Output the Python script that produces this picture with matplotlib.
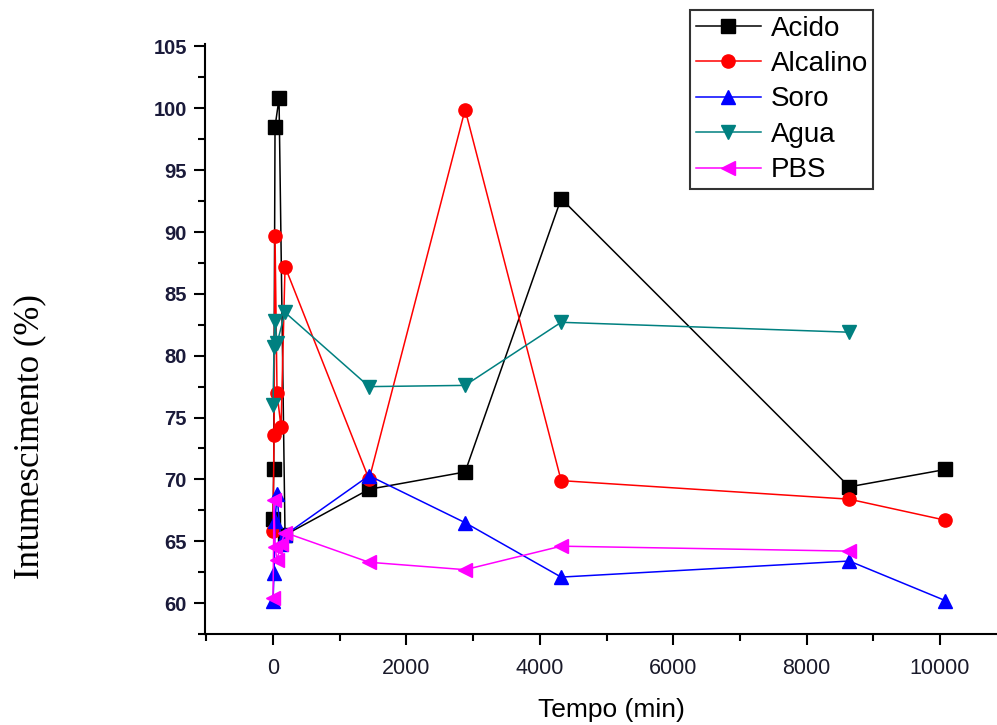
import matplotlib
matplotlib.use("Agg")
import matplotlib.pyplot as plt
from matplotlib.ticker import MultipleLocator

# Data (time in min, swelling %)
t_acido = [0, 10, 30, 90, 180, 1440, 2880, 4320, 8640, 10080]
v_acido = [66.8, 70.8, 98.5, 100.8, 65.5, 69.2, 70.6, 92.7, 69.4, 70.8]

t_alcalino = [0, 15, 30, 60, 120, 180, 1440, 2880, 4320, 8640, 10080]
v_alcalino = [65.8, 73.6, 89.7, 77.0, 74.2, 87.2, 70.0, 99.9, 69.9, 68.4, 66.7]

t_soro = [0, 15, 30, 60, 120, 180, 1440, 2880, 4320, 8640, 10080]
v_soro = [60.2, 62.4, 66.6, 68.8, 64.8, 65.5, 70.3, 66.5, 62.1, 63.4, 60.2]

t_agua = [0, 15, 30, 60, 180, 1440, 2880, 4320, 8640]
v_agua = [76.0, 80.7, 82.8, 81.0, 83.5, 77.5, 77.6, 82.7, 81.9]

t_pbs = [0, 15, 30, 60, 120, 180, 1440, 2880, 4320, 8640]
v_pbs = [60.4, 68.3, 64.5, 63.5, 64.8, 65.7, 63.3, 62.7, 64.6, 64.2]

series = [
    ("Acido", t_acido, v_acido, "black", "s"),
    ("Alcalino", t_alcalino, v_alcalino, "#ff0000", "o"),
    ("Soro", t_soro, v_soro, "#0000ff", "^"),
    ("Agua", t_agua, v_agua, "#008080", "v"),
    ("PBS", t_pbs, v_pbs, "#ff00ff", "<"),
]

fig = plt.figure(figsize=(9.97, 7.25), dpi=100)
ax = fig.add_axes([205/997, (725-634)/725, 792/997, (634-44)/725])

for name, t, v, c, m in series:
    ax.plot(t, v, color=c, marker=m, markersize=9.5, linewidth=1.1, label=name,
            markeredgecolor=c, markerfacecolor=c)

ax.set_xlim(-1020, 10855)
ax.set_ylim(57.5, 105.2)
ax.xaxis.set_major_locator(MultipleLocator(2000))
ax.xaxis.set_minor_locator(MultipleLocator(1000))
ax.yaxis.set_major_locator(MultipleLocator(5))
ax.yaxis.set_minor_locator(MultipleLocator(2.5))

for s in ["top", "right"]:
    ax.spines[s].set_visible(False)
for s in ["left", "bottom"]:
    ax.spines[s].set_linewidth(1.5)

ax.tick_params(which="major", direction="out", length=8, width=1.5)
ax.tick_params(which="minor", direction="out", length=5, width=1.5)

for lab in ax.get_yticklabels():
    lab.set_fontfamily(["Liberation Sans", "DejaVu Sans"])
    lab.set_fontweight("bold")
    lab.set_fontsize(14.5)
    lab.set_color("#1a1a3a")
for lab in ax.get_xticklabels():
    lab.set_fontfamily(["Liberation Sans", "DejaVu Sans"])
    lab.set_fontsize(15.5)
    lab.set_color("#1a1a2a")
ax.tick_params(axis="x", pad=9)
ax.tick_params(axis="y", pad=5)

ax.set_ylabel("Intumescimento (%)", fontsize=25,
              family=["Liberation Serif", "DejaVu Serif"], labelpad=0)
ax.yaxis.set_label_coords(-0.2, 0.334)
ax.set_xlabel("Tempo (min)", fontsize=19,
              family=["Liberation Sans", "DejaVu Sans"])
ax.xaxis.set_label_coords(0.513, -0.108)

leg = ax.legend(loc="upper left", bbox_to_anchor=(690/997, 1 - 10/725),
                bbox_transform=fig.transFigure,
                prop={"family": ["Liberation Sans", "DejaVu Sans"], "size": 20},
                frameon=True, fancybox=False, edgecolor="black",
                handlelength=2.35, handletextpad=0.35, labelspacing=0.34,
                borderpad=0.2, borderaxespad=0, markerscale=1.0)
leg.get_frame().set_linewidth(1.5)

fig.savefig("out.png", dpi=100)
